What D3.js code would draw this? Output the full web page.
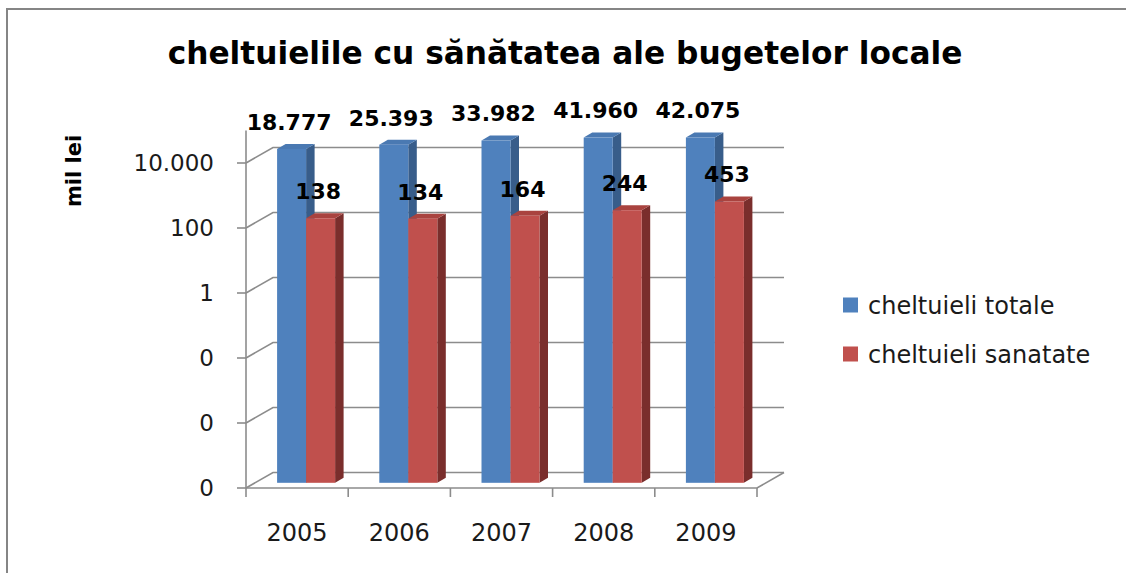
<!DOCTYPE html>
<html>
<head>
<meta charset="utf-8">
<script src="https://cdn.jsdelivr.net/npm/d3@7"></script>
<style>
  html, body { margin: 0; padding: 0; background: #fff; }
  svg { display: block; font-family: "DejaVu Sans", Verdana, sans-serif; }
</style>
</head>
<body>
<svg id="chart" width="1126" height="573"></svg>
<script>
// ---- data ----
const years = ["2005", "2006", "2007", "2008", "2009"];
const seriesNames = ["cheltuieli totale", "cheltuieli sanatate"];
const totale = [18777, 25393, 33982, 41960, 42075];
const sanatate = [138, 134, 164, 244, 453];
const yTicks = [1e-6, 1e-4, 1e-2, 1, 100, 10000];
const titleText = "cheltuielile cu sănătatea ale bugetelor locale";
const yTitle = "mil lei";

const series = [
  { name: seriesNames[0], values: totale, front: "#4F81BD", side: "#385D8A", top: "#4A79B2" },
  { name: seriesNames[1], values: sanatate, front: "#C0504D", side: "#7A2E2C", top: "#A9433F" }
];

const svg = d3.select("#chart");
const W = 1126, H = 573;

// frame
svg.append("rect").attr("x", 7).attr("y", 9).attr("width", W + 20).attr("height", H + 20)
  .attr("fill", "#fff").attr("stroke", "#858585").attr("stroke-width", 2);

// title
const title = svg.append("text").attr("x", 565).attr("y", 64).attr("text-anchor", "middle")
  .attr("font-weight", "bold").attr("font-size", 31).attr("fill", "#000").text(titleText);
const tw = title.node().getComputedTextLength();
title.attr("font-size", Math.min(34, 31 * 795 / tw));

// geometry
const floorY = 488, topY = 130.5;
const depth = { dx: 27, dy: -15.5 };        // wall depth
const barOff = { dx: 9, dy: -5.2 };          // bar front offset from floor front
const barDepth = { dx: 8.5, dy: -5 };        // bar depth

const y = d3.scaleLog().domain([1e-6, 1e5]).range([floorY, topY]);
const x = d3.scaleBand().domain(years).range([246, 757]).paddingInner(0).paddingOuter(0);
const xs = d3.scaleBand().domain(seriesNames).range([0, x.bandwidth()]).paddingInner(0).paddingOuter(0.762);

const gridColor = "#8c8c8c";
const fmt = d3.formatLocale({ decimal: ",", thousands: ".", grouping: [3], currency: ["", ""] }).format(",.0f");

const x0 = x.range()[0], x1 = x.range()[1];

// back wall gridlines + side diagonals
const grid = svg.append("g").attr("stroke", gridColor).attr("stroke-width", 1.6).attr("fill", "none");
yTicks.forEach(t => {
  const yy = y(t);
  grid.append("path").attr("d",
    `M${x0},${yy} L${x0 + depth.dx},${yy + depth.dy} L${x1 + depth.dx},${yy + depth.dy}`);
});
// floor front and right diagonal
grid.append("path").attr("d",
  `M${x0},${floorY} L${x1},${floorY} L${x1 + depth.dx},${floorY + depth.dy}`);
// front vertical axis
grid.append("line").attr("x1", x0).attr("x2", x0).attr("y1", topY).attr("y2", floorY);
// y ticks
yTicks.forEach(t => {
  grid.append("line").attr("x1", x0 - 9).attr("x2", x0).attr("y1", y(t)).attr("y2", y(t));
});
// x ticks
years.concat(["__end"]).forEach((yr, i) => {
  const xx = i < years.length ? x(yr) : x1;
  grid.append("line").attr("x1", xx).attr("x2", xx).attr("y1", floorY).attr("y2", floorY + 9);
});

// y tick labels
svg.append("g").selectAll("text").data(yTicks).join("text")
  .attr("x", 214).attr("y", d => y(d)).attr("dy", "0.36em")
  .attr("text-anchor", "end").attr("font-size", 23).attr("fill", "#1a1a1a")
  .text(d => fmt(d));

// y title
svg.append("text").attr("transform", "translate(81,171) rotate(-90)")
  .attr("text-anchor", "middle").attr("font-weight", "bold").attr("font-size", 21)
  .attr("fill", "#000").text(yTitle);

// x labels
svg.append("g").selectAll("text").data(years).join("text")
  .attr("x", d => x(d) + x.bandwidth() / 2).attr("y", 532).attr("dy", "0.36em")
  .attr("text-anchor", "middle").attr("font-size", 24).attr("fill", "#1a1a1a")
  .text(d => d);

// bars
const bars = svg.append("g");
years.forEach((yr, i) => {
  series.forEach(s => {
    const v = s.values[i];
    const bx0 = x(yr) + xs(s.name) + barOff.dx;
    const bx1 = bx0 + xs.bandwidth();
    const yt = y(v) + barOff.dy;
    const yb = y.range()[0] + barOff.dy;
    const g = bars.append("g");
    g.append("path").attr("fill", s.side).attr("d",
      `M${bx1},${yt} L${bx1 + barDepth.dx},${yt + barDepth.dy} L${bx1 + barDepth.dx},${yb + barDepth.dy} L${bx1},${yb} Z`);
    g.append("path").attr("fill", s.top).attr("d",
      `M${bx0},${yt} L${bx1},${yt} L${bx1 + barDepth.dx},${yt + barDepth.dy} L${bx0 + barDepth.dx},${yt + barDepth.dy} Z`);
    g.append("rect").attr("x", bx0).attr("y", yt).attr("width", bx1 - bx0).attr("height", yb - yt)
      .attr("fill", s.front);
  });
});

// data labels
const labels = svg.append("g");
years.forEach((yr, i) => {
  series.forEach(s => {
    const v = s.values[i];
    const bx0 = x(yr) + xs(s.name) + barOff.dx;
    const cx = bx0 + xs.bandwidth() / 2 - 2.5;
    const yt = y(v) + barOff.dy;
    labels.append("text").attr("x", cx).attr("y", yt - 27).attr("dy", "0.36em")
      .attr("text-anchor", "middle").attr("font-weight", "bold").attr("font-size", 22)
      .attr("fill", "#000").text(fmt(v));
  });
});

// legend
const legend = svg.append("g");
series.forEach((s, i) => {
  const cy = 305 + i * 49;
  legend.append("rect").attr("x", 843).attr("y", cy - 7.5).attr("width", 15).attr("height", 15).attr("fill", s.front);
  legend.append("text").attr("x", 868).attr("y", cy).attr("dy", "0.36em")
    .attr("font-size", 24).attr("fill", "#1a1a1a").text(s.name);
});
</script>
</body>
</html>
